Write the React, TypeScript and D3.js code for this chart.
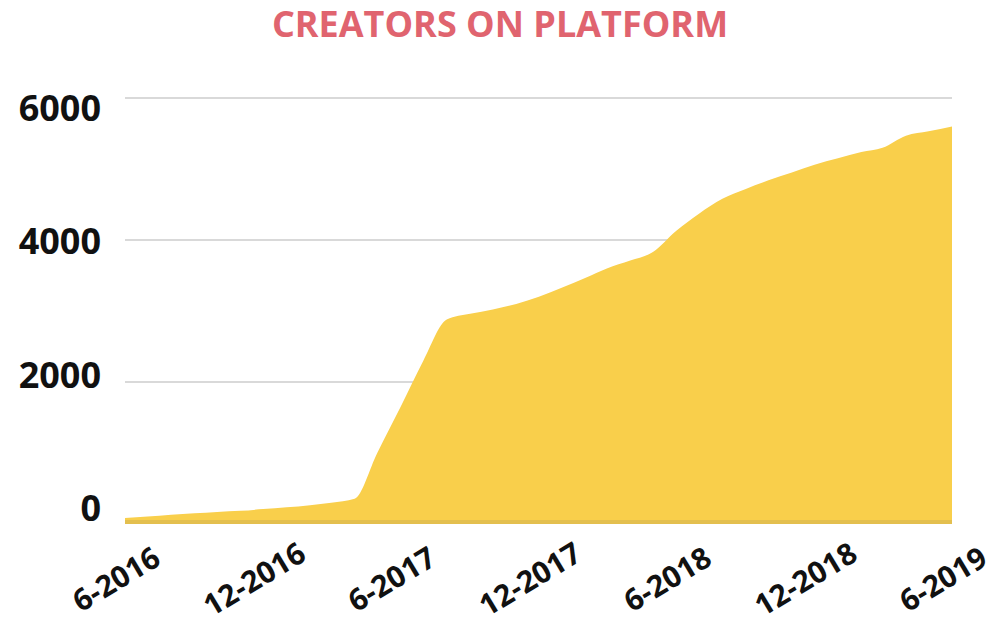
import { useRef, useEffect } from "react";
import * as d3 from "d3";

// monthly creator counts, Jun 2016 .. Jun 2019
const startMonth = new Date(2016, 5, 1);
const creators = [
  85, 105, 130, 150, 170, 185, 210, 235, 265, 300, 355, 1000, 1650, 2300, 2880,
  2960, 3020, 3100, 3200, 3330, 3470, 3600, 3710, 3830, 4130, 4370, 4580, 4720,
  4840, 4950, 5060, 5150, 5240, 5300, 5470, 5530, 5600,
];
const yTicks = [0, 2000, 4000, 6000];
const xTickLabels = ["6-2016", "12-2016", "6-2017", "12-2017", "6-2018", "12-2018", "6-2019"];
const title = "CREATORS ON PLATFORM";

const theme = {
  area: "#f9cf4b",
  grid: "#d9d9d9",
  title: "#e0646f",
  text: "#111111",
  font: "'Open Sans', sans-serif",
};

export default function App() {
  const svgRef = useRef<SVGSVGElement>(null);

  useEffect(() => {
    document.body.style.margin = "0";
    if (!svgRef.current) return;
    const width = 998;
    const height = 628;

    const svg = d3.select(svgRef.current);
    svg.selectAll("*").remove();
    svg.attr("width", width).attr("height", height);

    const data = creators.map((v, i) => ({ date: d3.timeMonth.offset(startMonth, i), value: v }));
    const endMonth = data[data.length - 1].date;

    const x = d3.scaleTime().domain([startMonth, endMonth]).range([125, 952]);
    const y = d3.scaleLinear().domain([0, 6000]).range([524, 98]);
    // tick labels sit a little off the grid lines in the original
    const yLabel = d3.scaleLinear().domain([0, 6000]).range([508, 108]);

    // Title
    svg.append("text")
      .attr("x", 500)
      .attr("y", 37)
      .attr("text-anchor", "middle")
      .attr("fill", theme.title)
      .attr("font-family", theme.font)
      .attr("font-weight", 700)
      .attr("font-size", 36)
      .text(title);

    // Grid
    svg.append("g")
      .selectAll("line")
      .data(yTicks.filter((d) => d > 0))
      .join("line")
      .attr("x1", x(startMonth))
      .attr("x2", x(endMonth))
      .attr("y1", (d) => y(d))
      .attr("y2", (d) => y(d))
      .attr("stroke", theme.grid)
      .attr("stroke-width", 2);

    // Area
    const area = d3
      .area<{ date: Date; value: number }>()
      .x((d) => x(d.date))
      .y0(y(0))
      .y1((d) => y(d.value))
      .curve(d3.curveMonotoneX);

    svg.append("path").datum(data).attr("d", area).attr("fill", theme.area);

    // Baseline
    svg.append("line")
      .attr("x1", x(startMonth))
      .attr("x2", x(endMonth))
      .attr("y1", y(0) - 2)
      .attr("y2", y(0) - 2)
      .attr("stroke", "#b9a15a")
      .attr("stroke-opacity", 0.35)
      .attr("stroke-width", 4);

    // Y labels
    svg.append("g")
      .selectAll("text")
      .data(yTicks)
      .join("text")
      .attr("x", 101)
      .attr("y", (d) => yLabel(d))
      .attr("dy", "0.36em")
      .attr("text-anchor", "end")
      .attr("fill", theme.text)
      .attr("font-family", theme.font)
      .attr("font-weight", 700)
      .attr("font-size", 36)
      .text((d) => String(d));

    // X labels
    svg.append("g")
      .selectAll("text")
      .data(xTickLabels)
      .join("text")
      .attr("transform", (_, i) => `translate(${x(d3.timeMonth.offset(startMonth, i * 6)) - 9},579) rotate(-31)`)
      .attr("dy", "0.36em")
      .attr("text-anchor", "middle")
      .attr("fill", theme.text)
      .attr("font-family", theme.font)
      .attr("font-weight", 700)
      .attr("font-size", 30)
      .text((d) => d);
  }, []);

  return <svg ref={svgRef} style={{ display: "block" }} />;
}
